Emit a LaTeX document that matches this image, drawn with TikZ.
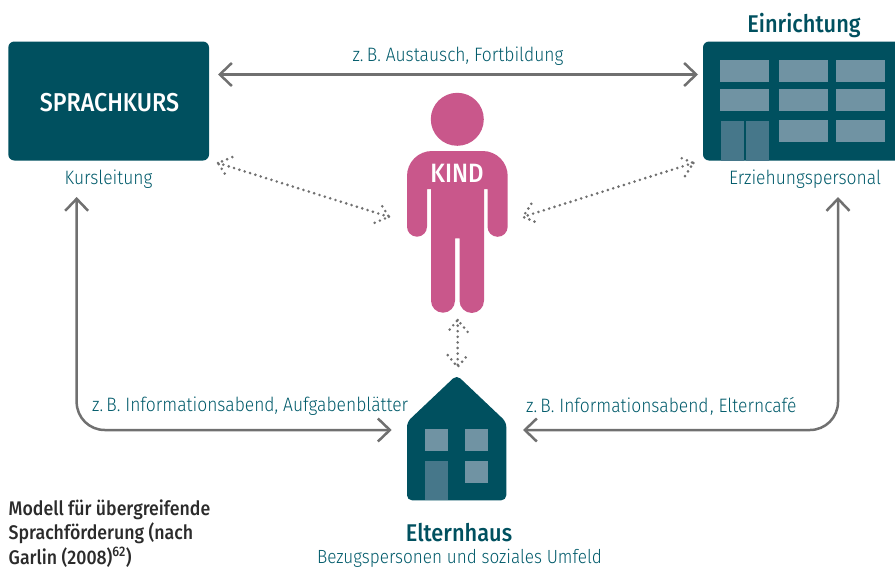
\documentclass[tikz,border=0pt]{standalone}
\usepackage{fontspec}
\setmainfont{Fira Sans Light}[FakeStretch=0.9]
\newfontfamily\medf{Fira Sans Medium}[FakeStretch=0.9]
\usetikzlibrary{arrows.meta,calc}
\definecolor{teal}{HTML}{00505F}
\definecolor{tealtext}{HTML}{005A6A}
\definecolor{win}{HTML}{7093A3}
\definecolor{doorc}{HTML}{46778A}
\definecolor{pinkk}{HTML}{C9578B}
\definecolor{greyl}{HTML}{707070}
\definecolor{capt}{HTML}{2B2B2B}
\tikzset{
  boxshape/.style={fill=teal,rounded corners=6pt},
  lbl/.style={text=tealtext,font=\fontsize{19.4}{22}\selectfont,inner sep=0pt},
  head/.style={text=teal,font=\fontsize{24.2}{28}\selectfont\medf,inner sep=0pt},
  whitehead/.style={text=white,inner sep=0pt,font=\fontsize{25.8}{28}\selectfont\medf},
  link/.style={draw=greyl,line width=2.5pt,{Straight Barb[length=12pt,width=23pt,line width=2.5pt]}-{Straight Barb[length=12pt,width=23pt,line width=2.5pt]}},
  dots/.style={draw=greyl,line width=2.9pt,line cap=round,dash pattern=on 0pt off 5.6pt},
  winl/.style={fill=win},
  doorr/.style={fill=doorc},
}
\newcommand{\dotlink}[2]{%
  \path[dots] (#1) -- (#2);
  \path[dots] ($(#1)!15.5pt!40:(#2)$) -- (#1) -- ($(#1)!15.5pt!-40:(#2)$);
  \path[dots] ($(#2)!15.5pt!40:(#1)$) -- (#2) -- ($(#2)!15.5pt!-40:(#1)$);
}
\begin{document}
\begin{tikzpicture}[x=1pt,y=-1pt]
\useasboundingbox (0,0) rectangle (895,568);
% Sprachkurs
\node[boxshape,minimum width=200.7pt,minimum height=119pt,inner sep=0pt,outer sep=0pt] (sprachkurs) at (108.65,101) {};
\node[whitehead] (sprachT) at (109.5,103) {SPRACHKURS};
\node[lbl] (kursleitung) at (108.5,179) {Kursleitung};
% Einrichtung
\path[fill=teal] (895,41.5) -- (709,41.5) arc[start angle=90,end angle=180,radius=6pt] -- (703,154.5) arc[start angle=180,end angle=270,radius=6pt] -- (895,160.5) -- cycle;
\node[inner sep=0pt,outer sep=0pt,minimum width=192pt,minimum height=119pt] (einrichtung) at (799,101) {};
\foreach \xa in {720,779,836}{
  \fill[winl] (\xa,60) rectangle ++(49,21.7);
  \fill[winl] (\xa,89) rectangle ++(49,22);
}
\foreach \xa in {779,836}{\fill[winl] (\xa,120) rectangle ++(49,22);}
\fill[doorr] (721,121) rectangle (744,160.5);
\fill[doorr] (746,121) rectangle (769,160.5);
\node[head] (einrichtungT) at (804,25.5) {Einrichtung};
\node[lbl] (personal) at (805,179.5) {Erziehungspersonal};
% Kind
\fill[pinkk] (457.3,119.3) circle[radius=26.5pt];
\fill[pinkk]
  (432,151) -- (482.7,151) arc[start angle=90,end angle=0,radius=25pt]
  -- (507.7,226.7) arc[start angle=0,end angle=-180,radius=10.1pt]
  -- (487.5,189) -- (484,189) -- (484,300.7) arc[start angle=0,end angle=-180,radius=12.25pt]
  -- (459.5,238.3) -- (455,238.3) -- (455,300.7) arc[start angle=0,end angle=-180,radius=12pt]
  -- (431,189) -- (427,189) -- (427,226.7) arc[start angle=0,end angle=-180,radius=10pt]
  -- (407,176) arc[start angle=180,end angle=90,radius=25pt] -- cycle;
\node[inner sep=0pt,outer sep=0pt,minimum width=100.7pt,minimum height=219.7pt] (kind) at (457.35,202.85) {};
\node[text=white,inner sep=0pt,font=\fontsize{26.5}{28}\selectfont\medf] (kindT) at (457,173.5) {KIND};
% Elternhaus
\fill[teal,rounded corners=5pt] (407,500.3) -- (407,422) -- (456.7,375) -- (506.3,422) -- (506.3,500.3) -- cycle;
\fill[winl] (425,429) rectangle (448,451);
\fill[winl] (465,429) rectangle (488,451);
\fill[winl] (465,461) rectangle (488,483);
\fill[doorr] (425,461) rectangle (448,500.3);
\node[inner sep=0pt,outer sep=0pt,minimum width=99.3pt,minimum height=123.6pt] (elternhaus) at (456.65,438.5) {};
\node[head] (elternT) at (459,532.5) {Elternhaus};
\node[lbl,font=\fontsize{19.05}{22}\selectfont,anchor=base] (bezug) at (459.5,563.7) {Bezugspersonen und soziales Umfeld};
% Connector labels
\node[lbl] (la) at (458,56) {z.\,B. Austausch, Fortbildung};
\node[lbl,anchor=west] (lb) at (92,406) {z.\,B. Informationsabend, Aufgabenblätter};
\node[lbl,anchor=west] (lc) at (526,406) {z.\,B. Informationsabend\kern1.5pt, Elterncafé};
% Connectors
\path[link] ([xshift=9pt,yshift=-33pt]sprachkurs.north east) -- ([xshift=-5pt,yshift=-33pt]einrichtung.north west);
\coordinate (ka) at ([xshift=-32pt,yshift=-36.5pt]sprachkurs.south);
\coordinate (kb) at ([xshift=-15.3pt,yshift=8.5pt]elternhaus.west);
\path[link,rounded corners=28pt] (ka) -- (ka |- kb) -- (kb);
\coordinate (ra) at ([xshift=39pt,yshift=-36.5pt]einrichtung.south);
\coordinate (rb) at ([xshift=16.7pt,yshift=8.5pt]elternhaus.east);
\path[link,rounded corners=28pt] (rb) -- (ra |- rb) -- (ra);
\coordinate (d1) at ([xshift=9pt,yshift=-2.5pt]sprachkurs.south east);
\coordinate (d2) at ([xshift=-18pt,yshift=-14pt]kind.west);
\dotlink{d1}{d2}
\coordinate (d3) at ([xshift=-9.7pt,yshift=-2.5pt]einrichtung.south west);
\coordinate (d4) at ([xshift=15.3pt,yshift=-14pt]kind.east);
\dotlink{d3}{d4}
\coordinate (d5) at ([xshift=0.35pt,yshift=-7.3pt]kind.south);
\coordinate (d6) at ([xshift=1pt,yshift=9.7pt]elternhaus.north);
\dotlink{d5}{d6}
% Caption
\node[anchor=north west,align=left,inner sep=0pt,text=capt,font=\fontsize{19.7}{24.5}\selectfont\medf] (caption) at (8.5,499.5) {Modell für übergreifende\\Sprachförderung (nach\\Garlin (2008)\textsuperscript{62})};
\end{tikzpicture}
\end{document}
